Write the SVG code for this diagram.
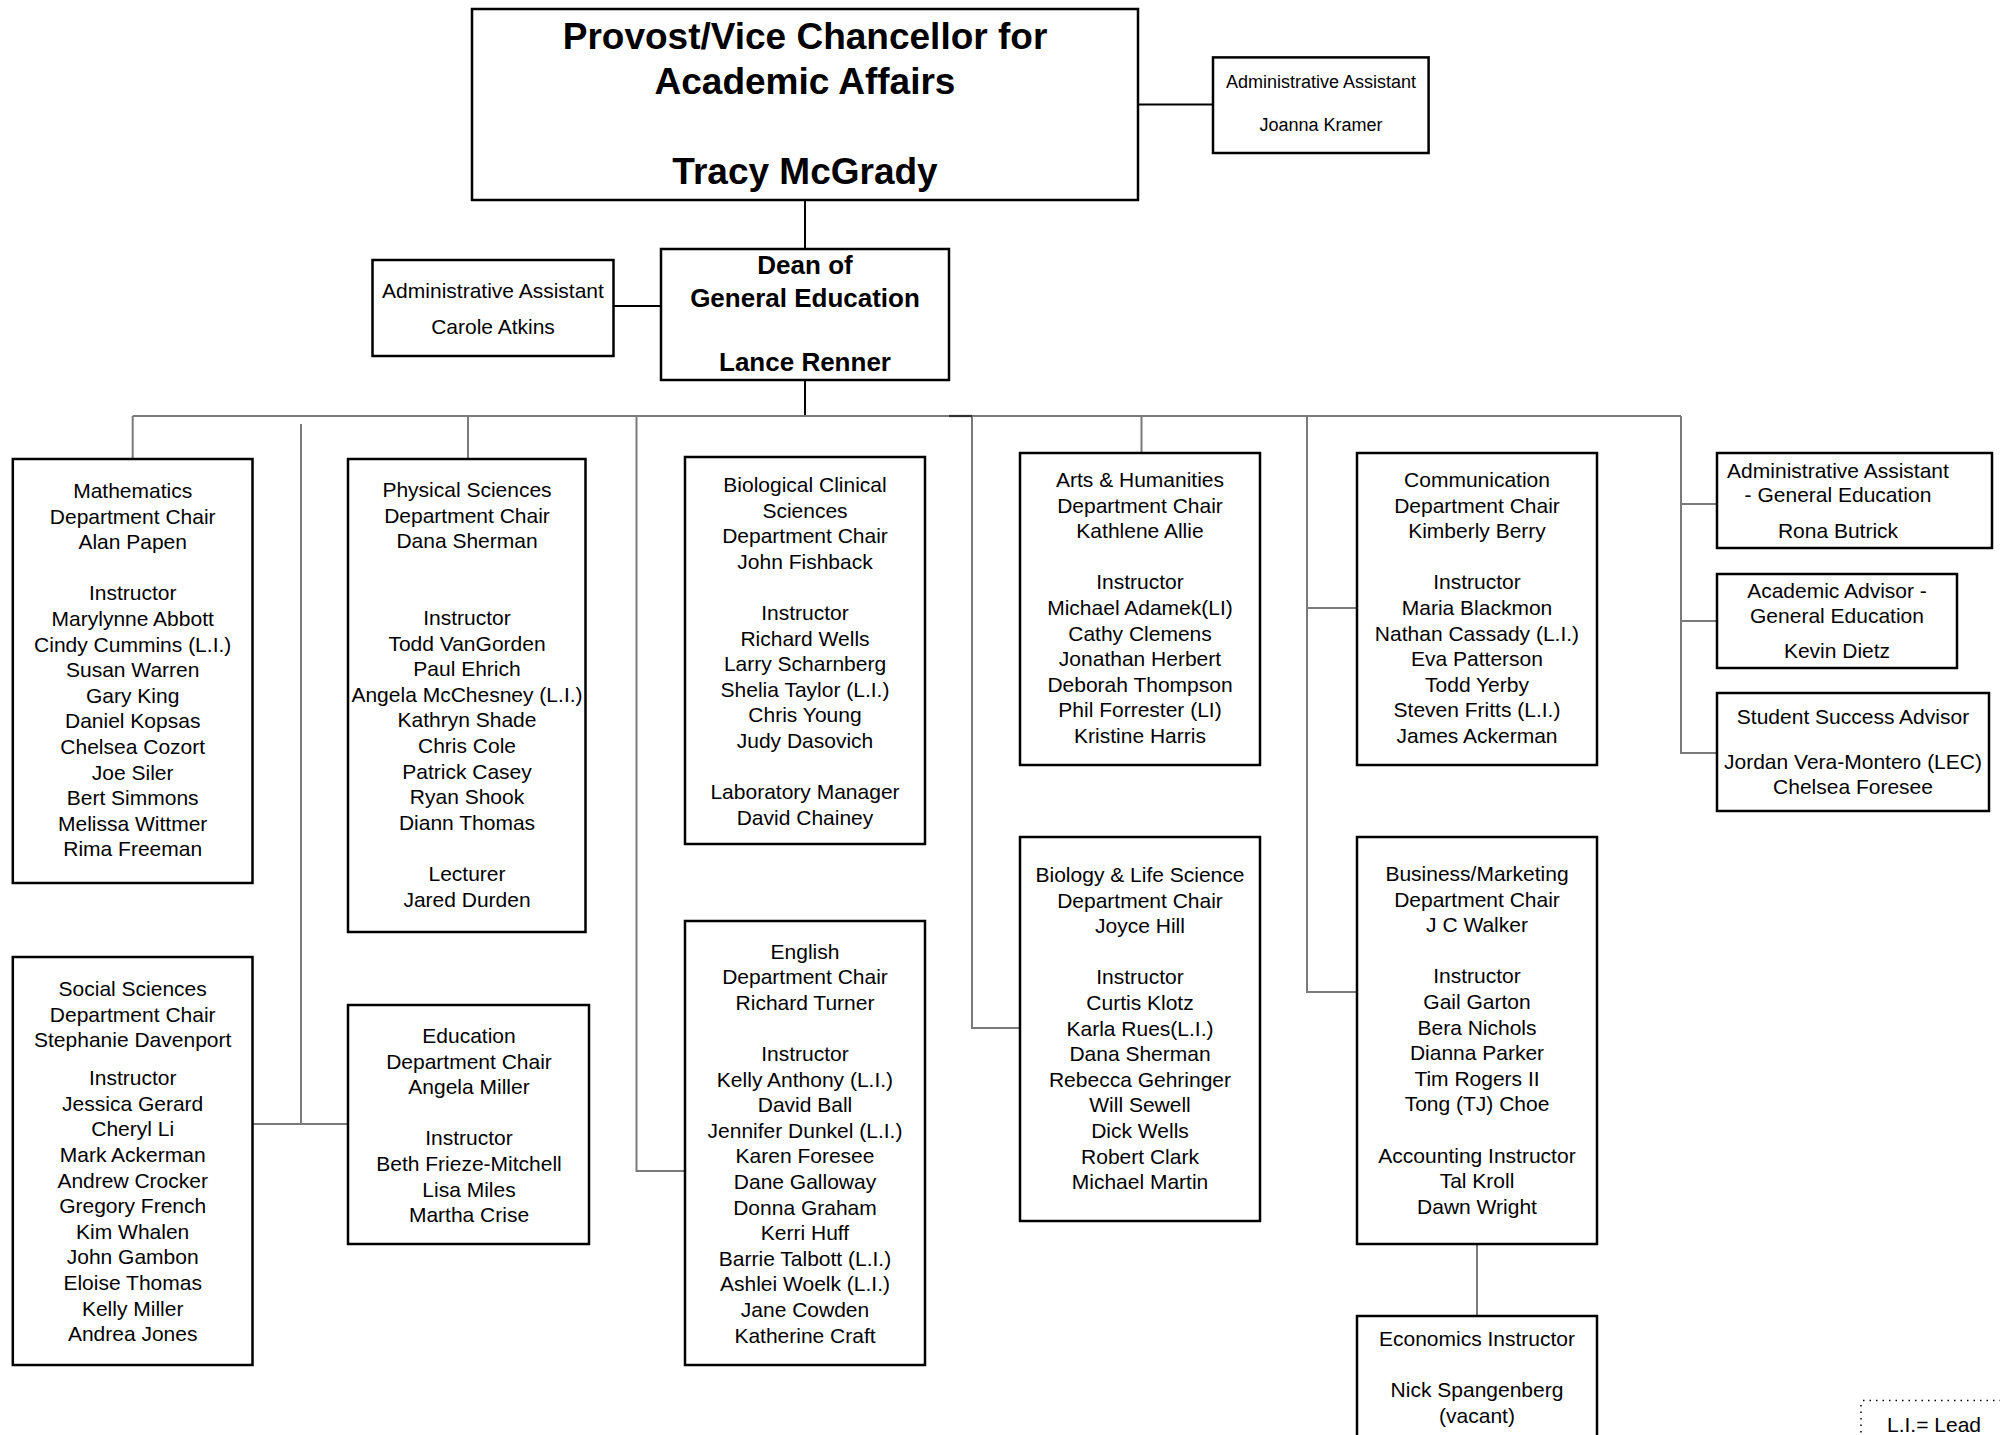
<svg xmlns="http://www.w3.org/2000/svg" width="2000" height="1435" viewBox="0 0 2000 1435">
<style>
.box{fill:#fff;stroke:#000;stroke-width:2.5}
.t{font-family:"Liberation Sans",Arial,sans-serif;font-size:21px;fill:#000;text-anchor:middle}
.s{font-size:18px}
.b{font-weight:bold}
.con{fill:none;stroke:#7a7a7a;stroke-width:2}
.conk{fill:none;stroke:#000;stroke-width:2}
</style>
<rect width="2000" height="1435" fill="#fff"/>
<g id="connectors">
<path class="conk" d="M805 200V249M805 380V416M1138 104.6H1213M613.5 306H661"/>
<path class="con" d="M132.7 416H1681M132.7 416V459M301 424V1124M252.5 1124H348M468 416V459M636.5 416V1171H685M972 416V1028H1020M1141.5 416V453M1307 416V992H1357M1307 608H1357M1681 416V753H1717M1681 504H1717M1681 621H1717M1477 1244V1316"/>
<path d="M949 416H972" fill="none" stroke="#303030" stroke-width="2.2"/>
</g>
<g id="provost">
<rect class="box" x="472" y="9" width="666" height="191"/>
<text class="t b" x="805" y="49" style="font-size:37px">Provost/Vice Chancellor for</text>
<text class="t b" x="805" y="94" style="font-size:37px">Academic Affairs</text>
<text class="t b" x="805" y="184" style="font-size:37px">Tracy McGrady</text>
</g>
<g id="admin-kramer">
<rect class="box" x="1213" y="57.4" width="215.6" height="95.6"/>
<text class="t s" x="1321" y="88">Administrative Assistant</text>
<text class="t s" x="1321" y="131">Joanna Kramer</text>
</g>
<g id="dean">
<rect class="box" x="661" y="249" width="288" height="131"/>
<text class="t b" x="805" y="274" style="font-size:26px">Dean of</text>
<text class="t b" x="805" y="307" style="font-size:26px">General Education</text>
<text class="t b" x="805" y="371" style="font-size:26px">Lance Renner</text>
</g>
<g id="admin-atkins">
<rect class="box" x="372.5" y="260" width="241" height="96"/>
<text class="t" x="493" y="298">Administrative Assistant</text>
<text class="t" x="493" y="334">Carole Atkins</text>
</g>
<g id="mathematics">
<rect class="box" x="12.8" y="459" width="239.7" height="424"/>
<text class="t" y="498"><tspan x="132.7">Mathematics</tspan><tspan x="132.7" dy="25.6">Department Chair</tspan><tspan x="132.7" dy="25.6">Alan Papen</tspan><tspan x="132.7" dy="51.2">Instructor</tspan><tspan x="132.7" dy="25.6">Marylynne Abbott</tspan><tspan x="132.7" dy="25.6">Cindy Cummins (L.I.)</tspan><tspan x="132.7" dy="25.6">Susan Warren</tspan><tspan x="132.7" dy="25.6">Gary King</tspan><tspan x="132.7" dy="25.6">Daniel Kopsas</tspan><tspan x="132.7" dy="25.6">Chelsea Cozort</tspan><tspan x="132.7" dy="25.6">Joe Siler</tspan><tspan x="132.7" dy="25.6">Bert Simmons</tspan><tspan x="132.7" dy="25.6">Melissa Wittmer</tspan><tspan x="132.7" dy="25.6">Rima Freeman</tspan></text>
</g>
<g id="physical-sciences">
<rect class="box" x="348" y="459" width="237.5" height="473"/>
<text class="t" y="497"><tspan x="467">Physical Sciences</tspan><tspan x="467" dy="25.6">Department Chair</tspan><tspan x="467" dy="25.6">Dana Sherman</tspan><tspan x="467" dy="76.8">Instructor</tspan><tspan x="467" dy="25.6">Todd VanGorden</tspan><tspan x="467" dy="25.6">Paul Ehrich</tspan><tspan x="467" dy="25.6">Angela McChesney (L.I.)</tspan><tspan x="467" dy="25.6">Kathryn Shade</tspan><tspan x="467" dy="25.6">Chris Cole</tspan><tspan x="467" dy="25.6">Patrick Casey</tspan><tspan x="467" dy="25.6">Ryan Shook</tspan><tspan x="467" dy="25.6">Diann Thomas</tspan><tspan x="467" dy="51.2">Lecturer</tspan><tspan x="467" dy="25.6">Jared Durden</tspan></text>
</g>
<g id="biological-clinical">
<rect class="box" x="685" y="457" width="240" height="387"/>
<text class="t" y="492"><tspan x="805">Biological Clinical</tspan><tspan x="805" dy="25.6">Sciences</tspan><tspan x="805" dy="25.6">Department Chair</tspan><tspan x="805" dy="25.6">John Fishback</tspan><tspan x="805" dy="51.2">Instructor</tspan><tspan x="805" dy="25.6">Richard Wells</tspan><tspan x="805" dy="25.6">Larry Scharnberg</tspan><tspan x="805" dy="25.6">Shelia Taylor (L.I.)</tspan><tspan x="805" dy="25.6">Chris Young</tspan><tspan x="805" dy="25.6">Judy Dasovich</tspan><tspan x="805" dy="51.2">Laboratory Manager</tspan><tspan x="805" dy="25.6">David Chainey</tspan></text>
</g>
<g id="arts-humanities">
<rect class="box" x="1020" y="453" width="240" height="312"/>
<text class="t" y="487"><tspan x="1140">Arts &amp; Humanities</tspan><tspan x="1140" dy="25.6">Department Chair</tspan><tspan x="1140" dy="25.6">Kathlene Allie</tspan><tspan x="1140" dy="51.2">Instructor</tspan><tspan x="1140" dy="25.6">Michael Adamek(LI)</tspan><tspan x="1140" dy="25.6">Cathy Clemens</tspan><tspan x="1140" dy="25.6">Jonathan Herbert</tspan><tspan x="1140" dy="25.6">Deborah Thompson</tspan><tspan x="1140" dy="25.6">Phil Forrester (LI)</tspan><tspan x="1140" dy="25.6">Kristine Harris</tspan></text>
</g>
<g id="communication">
<rect class="box" x="1357" y="453" width="240" height="312"/>
<text class="t" y="487"><tspan x="1477">Communication</tspan><tspan x="1477" dy="25.6">Department Chair</tspan><tspan x="1477" dy="25.6">Kimberly Berry</tspan><tspan x="1477" dy="51.2">Instructor</tspan><tspan x="1477" dy="25.6">Maria Blackmon</tspan><tspan x="1477" dy="25.6">Nathan Cassady (L.I.)</tspan><tspan x="1477" dy="25.6">Eva Patterson</tspan><tspan x="1477" dy="25.6">Todd Yerby</tspan><tspan x="1477" dy="25.6">Steven Fritts (L.I.)</tspan><tspan x="1477" dy="25.6">James Ackerman</tspan></text>
</g>
<g id="admin-butrick">
<rect class="box" x="1717" y="453" width="275" height="95"/>
<text class="t" x="1838" y="478">Administrative Assistant</text>
<text class="t" x="1838" y="502">- General Education</text>
<text class="t" x="1838" y="538">Rona Butrick</text>
</g>
<g id="academic-advisor">
<rect class="box" x="1717" y="574" width="240" height="94"/>
<text class="t" x="1837" y="598">Academic Advisor -</text>
<text class="t" x="1837" y="623">General Education</text>
<text class="t" x="1837" y="658">Kevin Dietz</text>
</g>
<g id="student-success">
<rect class="box" x="1717" y="693" width="272" height="118"/>
<text class="t" x="1853" y="724">Student Success Advisor</text>
<text class="t" x="1853" y="769">Jordan Vera-Montero (LEC)</text>
<text class="t" x="1853" y="794">Chelsea Foresee</text>
</g>
<g id="social-sciences">
<rect class="box" x="12.8" y="957" width="239.7" height="408"/>
<text class="t" y="996"><tspan x="132.7">Social Sciences</tspan><tspan x="132.7" dy="25.6">Department Chair</tspan><tspan x="132.7" dy="25.6">Stephanie Davenport</tspan><tspan x="132.7" dy="38">Instructor</tspan><tspan x="132.7" dy="25.6">Jessica Gerard</tspan><tspan x="132.7" dy="25.6">Cheryl Li</tspan><tspan x="132.7" dy="25.6">Mark Ackerman</tspan><tspan x="132.7" dy="25.6">Andrew Crocker</tspan><tspan x="132.7" dy="25.6">Gregory French</tspan><tspan x="132.7" dy="25.6">Kim Whalen</tspan><tspan x="132.7" dy="25.6">John Gambon</tspan><tspan x="132.7" dy="25.6">Eloise Thomas</tspan><tspan x="132.7" dy="25.6">Kelly Miller</tspan><tspan x="132.7" dy="25.6">Andrea Jones</tspan></text>
</g>
<g id="education">
<rect class="box" x="348" y="1005" width="241" height="239"/>
<text class="t" y="1043"><tspan x="469">Education</tspan><tspan x="469" dy="25.6">Department Chair</tspan><tspan x="469" dy="25.6">Angela Miller</tspan><tspan x="469" dy="51.2">Instructor</tspan><tspan x="469" dy="25.6">Beth Frieze-Mitchell</tspan><tspan x="469" dy="25.6">Lisa Miles</tspan><tspan x="469" dy="25.6">Martha Crise</tspan></text>
</g>
<g id="english">
<rect class="box" x="685" y="921" width="240" height="444"/>
<text class="t" y="958.5"><tspan x="805">English</tspan><tspan x="805" dy="25.6">Department Chair</tspan><tspan x="805" dy="25.6">Richard Turner</tspan><tspan x="805" dy="51.2">Instructor</tspan><tspan x="805" dy="25.6">Kelly Anthony (L.I.)</tspan><tspan x="805" dy="25.6">David Ball</tspan><tspan x="805" dy="25.6">Jennifer Dunkel (L.I.)</tspan><tspan x="805" dy="25.6">Karen Foresee</tspan><tspan x="805" dy="25.6">Dane Galloway</tspan><tspan x="805" dy="25.6">Donna Graham</tspan><tspan x="805" dy="25.6">Kerri Huff</tspan><tspan x="805" dy="25.6">Barrie Talbott (L.I.)</tspan><tspan x="805" dy="25.6">Ashlei Woelk (L.I.)</tspan><tspan x="805" dy="25.6">Jane Cowden</tspan><tspan x="805" dy="25.6">Katherine Craft</tspan></text>
</g>
<g id="biology-life">
<rect class="box" x="1020" y="837" width="240" height="384"/>
<text class="t" y="882"><tspan x="1140">Biology &amp; Life Science</tspan><tspan x="1140" dy="25.6">Department Chair</tspan><tspan x="1140" dy="25.6">Joyce Hill</tspan><tspan x="1140" dy="51.2">Instructor</tspan><tspan x="1140" dy="25.6">Curtis Klotz</tspan><tspan x="1140" dy="25.6">Karla Rues(L.I.)</tspan><tspan x="1140" dy="25.6">Dana Sherman</tspan><tspan x="1140" dy="25.6">Rebecca Gehringer</tspan><tspan x="1140" dy="25.6">Will Sewell</tspan><tspan x="1140" dy="25.6">Dick Wells</tspan><tspan x="1140" dy="25.6">Robert Clark</tspan><tspan x="1140" dy="25.6">Michael Martin</tspan></text>
</g>
<g id="business-marketing">
<rect class="box" x="1357" y="837" width="240" height="407"/>
<text class="t" y="881"><tspan x="1477">Business/Marketing</tspan><tspan x="1477" dy="25.6">Department Chair</tspan><tspan x="1477" dy="25.6">J C Walker</tspan><tspan x="1477" dy="51.2">Instructor</tspan><tspan x="1477" dy="25.6">Gail Garton</tspan><tspan x="1477" dy="25.6">Bera Nichols</tspan><tspan x="1477" dy="25.6">Dianna Parker</tspan><tspan x="1477" dy="25.6">Tim Rogers II</tspan><tspan x="1477" dy="25.6">Tong (TJ) Choe</tspan><tspan x="1477" dy="51.2">Accounting Instructor</tspan><tspan x="1477" dy="25.6">Tal Kroll</tspan><tspan x="1477" dy="25.6">Dawn Wright</tspan></text>
</g>
<g id="economics">
<rect class="box" x="1357" y="1316" width="240" height="130"/>
<text class="t" y="1346"><tspan x="1477">Economics Instructor</tspan><tspan x="1477" dy="51.2">Nick Spangenberg</tspan><tspan x="1477" dy="25.6">(vacant)</tspan></text>
</g>
<g id="legend">
<path d="M1863 1400.5H2000M1861 1405V1435" fill="none" stroke="#000" stroke-width="1.5" stroke-dasharray="1.5 5"/>
<text class="t" x="1887" y="1432" style="text-anchor:start">L.I.= Lead</text>
</g>
</svg>
